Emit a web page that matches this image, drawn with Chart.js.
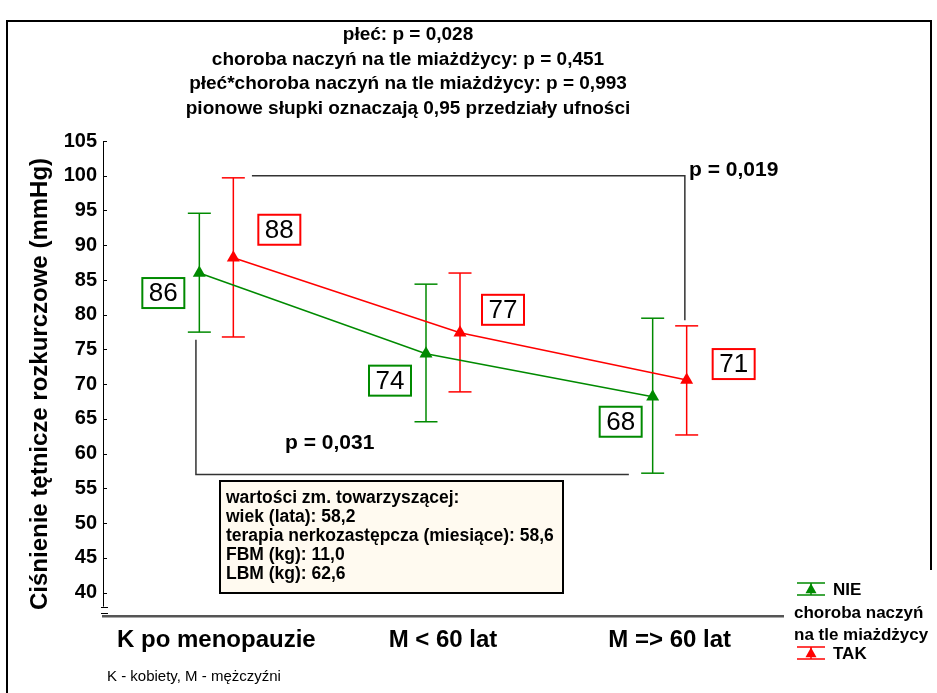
<!DOCTYPE html>
<html lang="pl">
<head>
<meta charset="utf-8">
<script src="https://cdn.jsdelivr.net/npm/chart.js@4.4.1/dist/chart.umd.min.js"></script>
<style>
html, body { margin: 0; padding: 0; background: #fff; }
#wrap { position: relative; width: 937px; height: 693px; }
</style>
</head>
<body>
<div id="wrap"><canvas id="chart" width="937" height="693"></canvas></div>
<script>
// grupy i średnie z przedziałami ufności 0,95
const categories = ['K po menopauzie', 'M < 60 lat', 'M => 60 lat'];
const nieMean = [86.0, 74.4, 68.2];
const nieLow = [77.5, 64.6, 57.2];
const nieHigh = [94.6, 84.4, 79.5];
const takMean = [88.2, 77.4, 70.6];
const takLow = [76.8, 68.9, 62.7];
const takHigh = [99.7, 86.0, 78.4];
const yTicks = [40, 45, 50, 55, 60, 65, 70, 75, 80, 85, 90, 95, 100, 105];

const titleLines = [
    'płeć: p = 0,028',
    'choroba naczyń na tle miażdżycy: p = 0,451',
    'płeć*choroba naczyń na tle miażdżycy: p = 0,993',
    'pionowe słupki oznaczają 0,95 przedziały ufności'
];
const covariateLines = [
    'wartości zm. towarzyszącej:',
    'wiek (lata): 58,2',
    'terapia nerkozastępcza (miesiące): 58,6',
    'FBM (kg): 11,0',
    'LBM (kg): 62,6'
];
const yTitle = 'Ciśnienie tętnicze rozkurczowe (mmHg)';
const footnote = 'K - kobiety, M - mężczyźni';

const GREEN = '#008a00';
const RED = '#ff0000';
const SHIFT = 0.075;

const series = [
    { name: 'NIE', color: GREEN, mean: nieMean, low: nieLow, high: nieHigh, shift: -SHIFT,
      boxOffsets: [[-36, 20], [-36, 27], [-32, 25]] },
    { name: 'TAK', color: RED, mean: takMean, low: takLow, high: takHigh, shift: SHIFT,
      boxOffsets: [[46, -28], [43, -23], [47, -16]] }
];

const pts = s => s.mean.map((v, i) => ({ x: i + s.shift, y: v }));

const FONT = 'Arial, "Liberation Sans", sans-serif';

function line(ctx, x1, y1, x2, y2) {
    ctx.beginPath();
    ctx.moveTo(x1, y1);
    ctx.lineTo(x2, y2);
    ctx.stroke();
}

function triangle(ctx, x, y, r, color) {
    ctx.fillStyle = color;
    ctx.beginPath();
    ctx.moveTo(x, y - r);
    ctx.lineTo(x + r, y + r * 0.75);
    ctx.lineTo(x - r, y + r * 0.75);
    ctx.closePath();
    ctx.fill();
}

const extras = {
    id: 'extras',
    beforeDatasetsDraw(chart) {
        const { ctx } = chart;
        const xs = chart.scales.x, ys = chart.scales.y;
        ctx.save();

        // przedziały ufności
        series.forEach(s => {
            ctx.strokeStyle = s.color;
            ctx.lineWidth = 1.5;
            s.mean.forEach((_, i) => {
                const x = xs.getPixelForValue(i + s.shift);
                const yl = ys.getPixelForValue(s.low[i]);
                const yh = ys.getPixelForValue(s.high[i]);
                line(ctx, x, yl, x, yh);
                line(ctx, x - 11.5, yl, x + 11.5, yl);
                line(ctx, x - 11.5, yh, x + 11.5, yh);
            });
        });

        // klamry porównań
        ctx.strokeStyle = '#333';
        ctx.lineWidth = 1.5;
        ctx.beginPath();
        ctx.moveTo(xs.getPixelForValue(0.157), ys.getPixelForValue(100));
        ctx.lineTo(xs.getPixelForValue(2.067), ys.getPixelForValue(100));
        ctx.lineTo(xs.getPixelForValue(2.067), ys.getPixelForValue(79.2));
        ctx.stroke();
        ctx.beginPath();
        ctx.moveTo(xs.getPixelForValue(-0.09), ys.getPixelForValue(76.4));
        ctx.lineTo(xs.getPixelForValue(-0.09), ys.getPixelForValue(57.0));
        ctx.lineTo(xs.getPixelForValue(1.82), ys.getPixelForValue(57.0));
        ctx.stroke();

        // oś Y z przerwą u dołu
        const ax = chart.chartArea.left;
        ctx.strokeStyle = '#000';
        ctx.lineWidth = 1;
        line(ctx, ax + 0.5, ys.getPixelForValue(105), ax + 0.5, ys.getPixelForValue(38.0));
        yTicks.forEach(t => {
            const y = Math.round(ys.getPixelForValue(t)) + 0.5;
            line(ctx, ax, y, ax + 4, y);
        });
        let yb = Math.round(ys.getPixelForValue(38.0)) + 0.5;
        line(ctx, ax - 2, yb, ax + 5, yb);
        yb = Math.round(ys.getPixelForValue(37.1)) + 0.5;
        line(ctx, ax - 2, yb, ax + 5, yb);

        ctx.restore();
    },
    afterDraw(chart) {
        const { ctx } = chart;
        const xs = chart.scales.x, ys = chart.scales.y;
        ctx.save();

        // ramka
        ctx.strokeStyle = '#000';
        ctx.lineWidth = 2;
        ctx.beginPath();
        ctx.moveTo(7, 693);
        ctx.lineTo(7, 21);
        ctx.lineTo(931, 21);
        ctx.lineTo(931, 570);
        ctx.stroke();

        // etykiety wartości
        ctx.font = '26px ' + FONT;
        ctx.textAlign = 'center';
        ctx.textBaseline = 'middle';
        series.forEach(s => {
            s.mean.forEach((v, i) => {
                const cx = xs.getPixelForValue(i + s.shift) + s.boxOffsets[i][0];
                const cy = ys.getPixelForValue(v) + s.boxOffsets[i][1];
                ctx.fillStyle = '#fff';
                ctx.fillRect(cx - 21, cy - 15, 42, 30);
                ctx.strokeStyle = s.color;
                ctx.lineWidth = 2;
                ctx.strokeRect(cx - 21, cy - 15, 42, 30);
                ctx.fillStyle = '#000';
                ctx.fillText(String(Math.round(v)), cx, cy + 1);
            });
        });

        // nagłówek
        ctx.fillStyle = '#000';
        ctx.font = 'bold 19px ' + FONT;
        titleLines.forEach((t, i) => ctx.fillText(t, 408, 35 + i * 24.5));

        // wartości p
        ctx.font = 'bold 21px ' + FONT;
        ctx.textAlign = 'left';
        ctx.fillText('p = 0,019', 689, 170);
        ctx.fillText('p = 0,031', 285, 443);

        // tytuł osi Y
        ctx.save();
        ctx.translate(40, 384);
        ctx.rotate(-Math.PI / 2);
        ctx.textAlign = 'center';
        ctx.font = 'bold 24px ' + FONT;
        ctx.fillText(yTitle, 0, 0);
        ctx.restore();

        // ramka z wartościami zm. towarzyszącej
        ctx.fillStyle = '#fffaf0';
        ctx.fillRect(220, 481, 343, 112);
        ctx.strokeStyle = '#000';
        ctx.lineWidth = 2;
        ctx.strokeRect(220, 481, 343, 112);
        ctx.fillStyle = '#000';
        ctx.font = 'bold 17.5px ' + FONT;
        covariateLines.forEach((t, i) => ctx.fillText(t, 226, 498 + i * 19));

        // przypis
        ctx.font = '15px ' + FONT;
        ctx.fillText(footnote, 107, 677);

        // legenda
        const legendRows = [[series[0], 589], [series[1], 653]];
        ctx.font = 'bold 17px ' + FONT;
        legendRows.forEach(([s, y]) => {
            ctx.strokeStyle = s.color;
            ctx.lineWidth = 1.5;
            line(ctx, 797, y - 6, 825, y - 6);
            line(ctx, 797, y + 6, 825, y + 6);
            line(ctx, 811, y - 6, 811, y + 6);
            triangle(ctx, 811, y, 5.5, s.color);
            ctx.fillStyle = '#000';
            ctx.fillText(s.name, 833, y + 1);
        });
        ctx.fillText('choroba naczyń', 794, 613);
        ctx.fillText('na tle miażdżycy', 794, 635);

        ctx.restore();
    }
};

new Chart(document.getElementById('chart'), {
    type: 'line',
    data: {
        datasets: series.map(s => ({
            label: s.name,
            data: pts(s),
            borderColor: s.color,
            backgroundColor: s.color,
            borderWidth: 1.5,
            pointStyle: 'triangle',
            pointRadius: 7.5,
            pointBorderWidth: 0,
            pointHoverRadius: 7.5,
            tension: 0
        }))
    },
    options: {
        responsive: false,
        animation: false,
        layout: { padding: { top: 141, right: 154, left: 0, bottom: 0 } },
        plugins: { legend: { display: false }, tooltip: { enabled: false } },
        scales: {
            x: {
                type: 'linear',
                min: -0.5,
                max: 2.5,
                afterFit: s => { s.height = 77; },
                afterBuildTicks: s => { s.ticks = categories.map((_, i) => ({ value: i })); },
                ticks: {
                    padding: 10,
                    color: '#000',
                    font: { family: FONT, size: 24, weight: 'bold' },
                    callback: v => categories[v]
                },
                grid: { display: false, drawTicks: false },
                border: { display: true, color: '#555', width: 2.5 }
            },
            y: {
                type: 'linear',
                min: 36.65,
                max: 105,
                afterFit: s => { s.width = 103; },
                afterBuildTicks: s => { s.ticks = yTicks.map(v => ({ value: v })); },
                ticks: {
                    padding: 6,
                    color: '#000',
                    font: { family: FONT, size: 20, weight: 'bold' }
                },
                grid: { display: false, drawTicks: false },
                border: { display: false }
            }
        }
    },
    plugins: [extras]
});
</script>
</body>
</html>
